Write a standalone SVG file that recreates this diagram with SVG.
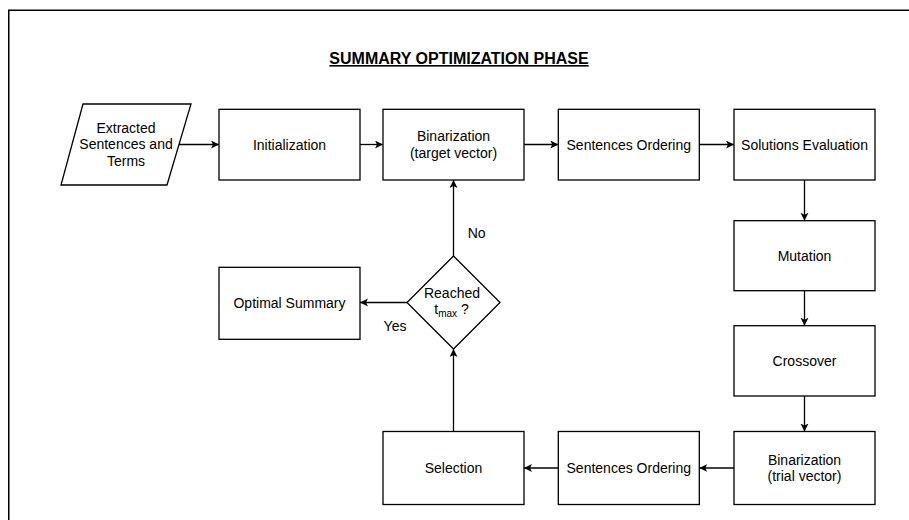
<svg xmlns="http://www.w3.org/2000/svg" width="909" height="520" viewBox="0 0 909 520">
<defs>
<marker id="arr" markerWidth="10" markerHeight="10" refX="8" refY="4" orient="auto" markerUnits="userSpaceOnUse">
<path d="M0,0 L8,4 L0,8 L2,4 z" fill="#000"/>
</marker>
<style>
.box{fill:#fff;stroke:#000;stroke-width:1.3}
.t{font-family:"Liberation Sans",Arial,sans-serif;font-size:14px;fill:#000;text-anchor:middle;dominant-baseline:central}
.c{fill:none;stroke:#000;stroke-width:1.3;marker-end:url(#arr)}
.ln{fill:none;stroke:#000;stroke-width:1.3}
</style>
</defs>
<rect width="909" height="520" fill="#fff"/>
<path d="M8.75,520 V10.3 H909" fill="none" stroke="#000" stroke-width="1.5"/>
<text x="459" y="64" font-family="'Liberation Sans',Arial,sans-serif" font-size="16" font-weight="bold" text-anchor="middle" text-decoration="underline">SUMMARY OPTIMIZATION PHASE</text>

<g id="input">
<polygon class="box" points="83,104 191,104 167,185 61,185"/>
<text class="t" x="126" y="127.5">Extracted</text>
<text class="t" x="126" y="144.3">Sentences and</text>
<text class="t" x="126" y="161">Terms</text>
</g>
<g id="init">
<rect class="box" x="219" y="109.3" width="141" height="70.7"/>
<text class="t" x="289.5" y="144.5">Initialization</text>
</g>
<g id="bintarget">
<rect class="box" x="383" y="109.3" width="141" height="70.7"/>
<text class="t" x="453.5" y="136.3">Binarization</text>
<text class="t" x="453.5" y="152.5">(target vector)</text>
</g>
<g id="order1">
<rect class="box" x="558.3" y="109.3" width="141" height="70.7"/>
<text class="t" x="628.8" y="144.5">Sentences Ordering</text>
</g>
<g id="eval">
<rect class="box" x="734" y="109.3" width="141" height="70.7"/>
<text class="t" x="804.5" y="144.5">Solutions Evaluation</text>
</g>
<g id="mutation">
<rect class="box" x="734" y="220.7" width="141" height="70"/>
<text class="t" x="804.5" y="255.7">Mutation</text>
</g>
<g id="crossover">
<rect class="box" x="734" y="325.7" width="141" height="70.3"/>
<text class="t" x="804.5" y="361">Crossover</text>
</g>
<g id="bintrial">
<rect class="box" x="734" y="431.5" width="141" height="73"/>
<text class="t" x="804.5" y="459.5">Binarization</text>
<text class="t" x="804.5" y="475.7">(trial vector)</text>
</g>
<g id="order2">
<rect class="box" x="558.3" y="431.5" width="141" height="73"/>
<text class="t" x="628.8" y="468">Sentences Ordering</text>
</g>
<g id="selection">
<rect class="box" x="383" y="431.5" width="141" height="73"/>
<text class="t" x="453.5" y="468">Selection</text>
</g>
<g id="decision">
<polygon class="box" points="453.5,256 500,302.5 453.5,349 407,302.5"/>
<text class="t" x="452" y="292.7">Reached</text>
<text font-family="'Liberation Sans',Arial,sans-serif" font-size="14" x="451.5" y="314" text-anchor="middle">t<tspan font-size="10" dy="3">max</tspan><tspan dy="-3"> ?</tspan></text>
</g>
<g id="optimal">
<rect class="box" x="219" y="267.3" width="141" height="72"/>
<text class="t" x="289.5" y="303.3">Optimal Summary</text>
</g>

<g id="connectors">
<line class="c" x1="179" y1="144.5" x2="219" y2="144.5"/>
<line class="c" x1="360" y1="144.5" x2="383" y2="144.5"/>
<line class="c" x1="524" y1="144.5" x2="558.3" y2="144.5"/>
<line class="c" x1="699.3" y1="144.5" x2="734" y2="144.5"/>
<line class="c" x1="804.5" y1="180" x2="804.5" y2="220.7"/>
<line class="c" x1="804.5" y1="290.7" x2="804.5" y2="325.7"/>
<line class="c" x1="804.5" y1="396" x2="804.5" y2="431.5"/>
<line class="c" x1="734" y1="468" x2="699.3" y2="468"/>
<line class="c" x1="558.3" y1="468" x2="524" y2="468"/>
<line class="c" x1="453.5" y1="431.5" x2="453.5" y2="349"/>
<line class="c" x1="453.5" y1="256" x2="453.5" y2="180"/>
<line class="c" x1="407" y1="302.5" x2="360" y2="302.5"/>
<text class="t" x="476.7" y="233.3">No</text>
<text class="t" x="395" y="326">Yes</text>
</g>
</svg>
